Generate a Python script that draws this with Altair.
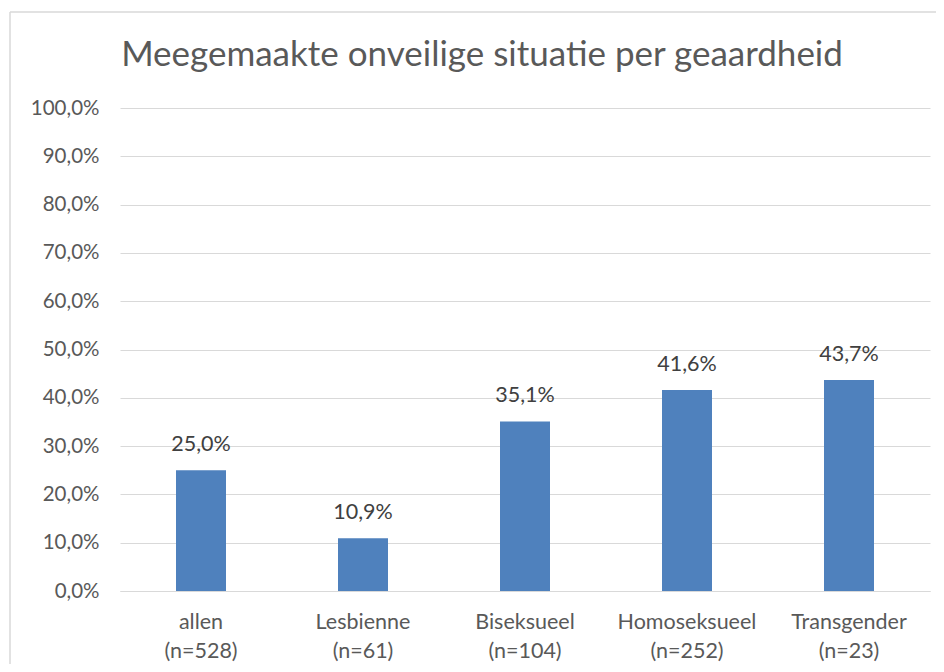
import altair as alt
import pandas as pd

categories = ["allen", "Lesbienne", "Biseksueel", "Homoseksueel", "Transgender"]
n_values = [528, 61, 104, 252, 23]
percentages = [25.0, 10.9, 35.1, 41.6, 43.7]
y_ticks = [0, 10, 20, 30, 40, 50, 60, 70, 80, 90, 100]
title_text = "Meegemaakte onveilige situatie per geaardheid"

df = pd.DataFrame({
    "cat": [f"{c}|(n={n})" for c, n in zip(categories, n_values)],
    "pct": percentages,
})

FONT = "Lato"
BLUE = "#4F81BD"
GRID = "#D9D9D9"

base = alt.Chart(df).encode(
    x=alt.X("cat:N", sort=None,
            scale=alt.Scale(paddingInner=0, paddingOuter=0),
            axis=alt.Axis(title=None, labelAngle=0, ticks=False, domainColor=GRID,
                          labelExpr="split(datum.label, '|')", labelLineHeight=29,
                          labelPadding=20, labelFontSize=21.5, labelColor="#595959",
                          labelFont=FONT, labelBaseline="top")),
    y=alt.Y("pct:Q", scale=alt.Scale(domain=[0, 100], nice=False),
            axis=alt.Axis(title=None, values=y_ticks, domain=False, ticks=False,
                          gridColor=GRID, gridWidth=1, labelPadding=21,
                          labelExpr="replace(format(datum.value, '.1f'), '.', ',') + '%'",
                          labelFontSize=20.5, labelColor="#595959", labelFont=FONT)),
)

bars = base.mark_bar(size=50, color=BLUE)

labels = base.transform_calculate(
    lbl="replace(format(datum.pct, '.1f'), '.', ',') + '%'"
).mark_text(baseline="middle", dy=-25, fontSize=21.5, color="#404040", font=FONT).encode(
    text="lbl:N"
)

one = alt.Data(values=[{"a": 1}])
frame_top = alt.Chart(one).mark_rule(color=GRID, strokeWidth=1.5, clip=False).encode(
    x=alt.value(-110), x2=alt.value(830), y=alt.value(-96)
)
frame_left = alt.Chart(one).mark_rule(color=GRID, strokeWidth=1.5, clip=False).encode(
    x=alt.value(-110), y=alt.value(-96), y2=alt.value(570)
)

title = alt.Chart(alt.Data(values=[{"t": title_text}])).mark_text(
    fontSize=35, font=FONT, color="#595959", align="center", baseline="alphabetic"
).encode(
    text="t:N", x=alt.value(362), y=alt.value(-42)
)

chart = alt.layer(frame_top, frame_left, title, bars, labels).properties(
    width=810, height=483,
    autosize=alt.AutoSizeParams(type="none"),
    padding={"left": 112, "top": 100, "right": 6, "bottom": 73},
).configure_view(stroke=None)

chart.save("out.html", embed_options={"renderer": "svg", "actions": False})
